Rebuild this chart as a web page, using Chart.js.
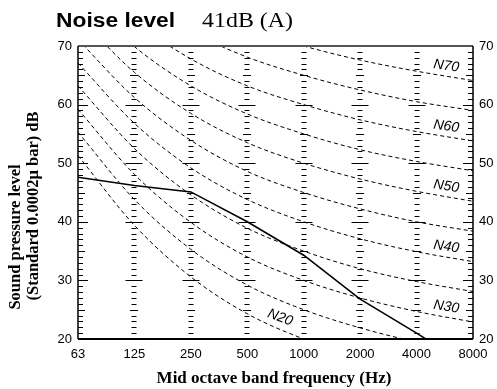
<!DOCTYPE html>
<html>
<head>
<meta charset="utf-8">
<script src="https://cdn.jsdelivr.net/npm/chart.js@4.4.1/dist/chart.umd.min.js"></script>
<style>
html, body { margin: 0; padding: 0; background: #fff; }
canvas { display: block; }
</style>
</head>
<body>
<canvas id="Noise" width="497" height="389"></canvas>
<script>
// Octave bands (Hz)
const Bands = ['63', '125', '250', '500', '1000', '2000', '4000', '8000'];

// Measured spectrum
const Measured = [47.6, 46.2, 45.1, 40.0, 34.3, 26.8, 21.0, 15.0];

// Noise rating curves
const NR20 = [51.3, 39.4, 30.6, 24.3, 20, 16.8, 14.4, 12.6];
const NR25 = [55.3, 43.8, 35.3, 29.2, 25, 21.9, 19.5, 17.8];
const NR30 = [59.2, 48.1, 39.9, 34.0, 30, 27.0, 24.7, 22.9];
const NR35 = [63.2, 52.5, 44.6, 38.9, 35, 32.0, 29.8, 28.1];
const NR40 = [67.1, 56.8, 49.2, 43.8, 40, 37.1, 34.9, 33.2];
const NR45 = [71.1, 61.2, 53.9, 48.6, 45, 42.2, 40.0, 38.4];
const NR50 = [75.0, 65.5, 58.5, 53.5, 50, 47.3, 45.2, 43.5];
const NR55 = [79.0, 69.9, 63.2, 58.4, 55, 52.3, 50.3, 48.7];
const NR60 = [82.9, 74.2, 67.8, 63.2, 60, 57.4, 55.4, 53.8];
const NR65 = [86.9, 78.6, 72.5, 68.1, 65, 62.5, 60.5, 59.0];
const NR70 = [90.8, 82.9, 77.1, 73.0, 70, 67.6, 65.7, 64.1];

const Curves = [NR20, NR25, NR30, NR35, NR40, NR45, NR50, NR55, NR60, NR65, NR70];
const CurveNames = ['N20', '', 'N30', '', 'N40', '', 'N50', '', 'N60', '', 'N70'];

const YTicks = [20, 30, 40, 50, 60, 70];

const sans = '"Liberation Sans", Arial, sans-serif';
const serif = '"Liberation Serif", "Times New Roman", serif';

const datasets = Curves.map(function(c, i) {
    return {
        label: 'NR' + (20 + i * 5),
        data: c,
        borderColor: '#000',
        borderWidth: 1,
        borderDash: [4, 3],
        pointRadius: 0,
        cubicInterpolationMode: 'monotone',
        fill: false
    };
});
datasets.push({
    label: 'Measured',
    data: Measured,
    borderColor: '#000',
    borderWidth: 1.6,
    pointRadius: 0,
    tension: 0,
    fill: false
});

// stretched text helper
function wideText(ctx, text, px, py, sx) {
    ctx.save();
    ctx.translate(px, py);
    ctx.scale(sx, 1);
    ctx.fillText(text, 0, 0);
    ctx.restore();
}

// frame, ticks and texts
const decor = {
    id: 'decor',
    afterDatasetsDraw(chart) {
        const ctx = chart.ctx;
        const a = chart.chartArea;
        const x = chart.scales.x;
        const y = chart.scales.y;
        ctx.save();

        // tick columns at inner bands
        ctx.strokeStyle = '#000';
        ctx.lineWidth = 1;
        ctx.beginPath();
        for (let i = 1; i < Bands.length - 1; i++) {
            const cx = Math.round(x.getPixelForValue(i));
            for (let v = 21; v < 70; v++) {
                const py = Math.round(y.getPixelForValue(v)) + 0.5;
                const half = v % 10 === 0 ? 8.5 : (v % 5 === 0 ? 4 : 2.5);
                ctx.moveTo(cx - half, py);
                ctx.lineTo(cx + half, py);
            }
        }
        // edge ticks
        for (let v = 21; v < 70; v++) {
            const py = Math.round(y.getPixelForValue(v)) + 0.5;
            const len = v % 10 === 0 ? 10 : (v % 5 === 0 ? 7 : 5);
            ctx.moveTo(a.left, py);
            ctx.lineTo(a.left + len, py);
            ctx.moveTo(a.right, py);
            ctx.lineTo(a.right - len, py);
        }
        ctx.stroke();

        // frame
        ctx.lineWidth = 2;
        ctx.strokeStyle = '#555';
        ctx.beginPath();
        ctx.moveTo(a.left, a.top);
        ctx.lineTo(a.right, a.top);
        ctx.stroke();
        ctx.strokeStyle = '#000';
        ctx.beginPath();
        ctx.moveTo(a.left, a.bottom);
        ctx.lineTo(a.right, a.bottom);
        ctx.stroke();
        ctx.lineWidth = 1.5;
        ctx.beginPath();
        ctx.moveTo(a.left, a.top);
        ctx.lineTo(a.left, a.bottom);
        ctx.moveTo(a.right, a.top);
        ctx.lineTo(a.right, a.bottom);
        ctx.stroke();

        // curve labels
        ctx.fillStyle = '#000';
        ctx.font = 'italic 14px ' + sans;
        ctx.textAlign = 'center';
        ctx.textBaseline = 'middle';
        Curves.forEach(function(c, k) {
            const name = CurveNames[k];
            if (!name) return;
            const t = name === 'N20' ? 3.52 : 6.5;
            const i = Math.floor(t), f = t - i;
            const x0 = x.getPixelForValue(i), x1 = x.getPixelForValue(i + 1);
            const y0 = y.getPixelForValue(c[i]), y1 = y.getPixelForValue(c[i + 1]);
            const ang = Math.atan2(y1 - y0, x1 - x0) * 0.85;
            ctx.save();
            ctx.translate(x0 + (x1 - x0) * f, y0 + (y1 - y0) * f);
            ctx.rotate(ang);
            ctx.fillText(name, 0, -10);
            ctx.restore();
        });

        // title
        ctx.textAlign = 'left';
        ctx.textBaseline = 'alphabetic';
        ctx.font = 'bold 20px ' + sans;
        wideText(ctx, 'Noise level', 56, 27, 1.14);
        ctx.font = '21px ' + serif;
        wideText(ctx, '41dB (A)', 202, 27, 1.14);

        // axis titles
        ctx.font = 'bold 17px ' + serif;
        ctx.textAlign = 'center';
        ctx.fillText('Mid octave band frequency (Hz)', 274, 383);

        ctx.save();
        ctx.rotate(-Math.PI / 2);
        ctx.font = 'bold 16.5px ' + serif;
        ctx.fillText('Sound pressure level', -237, 20);
        ctx.fillText('(Standard 0.0002\u03bc bar) dB', -206, 38);
        ctx.restore();

        ctx.restore();
    }
};

const tickFont = { family: sans, size: 13 };

new Chart(document.getElementById('Noise'), {
    type: 'line',
    data: {
        labels: Bands,
        datasets: datasets
    },
    options: {
        responsive: false,
        animation: false,
        devicePixelRatio: 1,
        layout: { padding: { top: 46, left: 0, right: 0, bottom: 0 } },
        plugins: {
            legend: { display: false },
            tooltip: { enabled: false },
            title: { display: false }
        },
        scales: {
            x: {
                type: 'category',
                offset: false,
                grid: { display: false, drawTicks: false },
                border: { display: false },
                ticks: { color: '#000', font: tickFont, padding: 8, maxRotation: 0, autoSkip: false },
                afterFit: function(s) { s.height = 50; }
            },
            y: {
                position: 'left',
                min: 20,
                max: 70,
                grid: { display: false, drawTicks: false },
                border: { display: false },
                ticks: {
                    color: '#000', font: tickFont, padding: 6,
                    stepSize: 10,
                    callback: function(v) { return YTicks.includes(v) ? v : ''; }
                },
                afterFit: function(s) { s.width = 78; }
            },
            y2: {
                position: 'right',
                min: 20,
                max: 70,
                grid: { display: false, drawTicks: false },
                border: { display: false },
                ticks: {
                    color: '#000', font: tickFont, padding: 6,
                    stepSize: 10,
                    callback: function(v) { return YTicks.includes(v) ? v : ''; }
                },
                afterFit: function(s) { s.width = 24; }
            }
        }
    },
    plugins: [decor]
});
</script>
</body>
</html>
